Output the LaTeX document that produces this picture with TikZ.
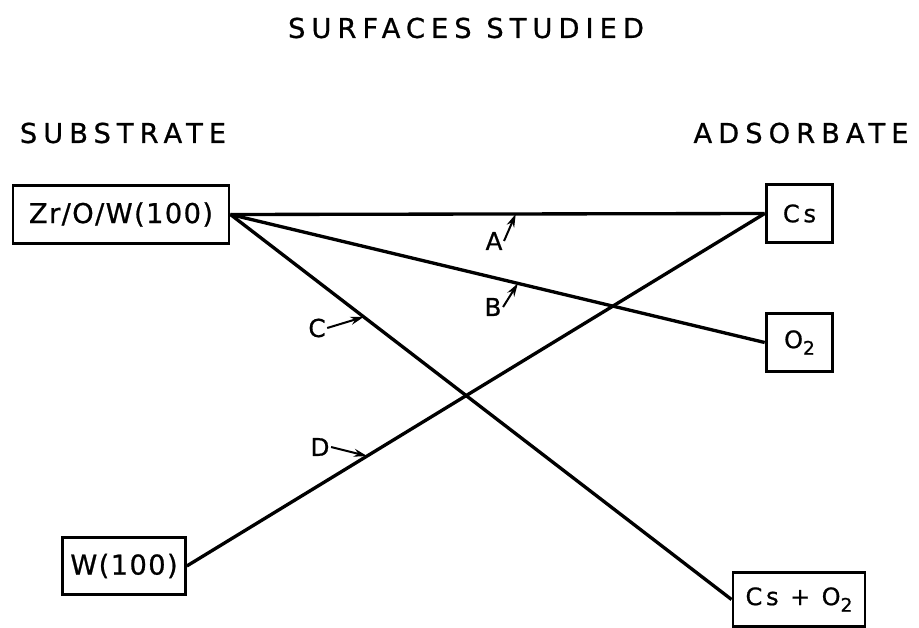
\documentclass[tikz,border=0pt]{standalone}
\usepackage{fontspec}
\newfontfamily\lettering{DejaVu Sans}[LetterSpace=22,FakeBold=0.8]
\newfontfamily\boxlettering{DejaVu Sans}[LetterSpace=5,FakeBold=0.8]
\newfontfamily\smalllettering{DejaVu Sans}[LetterSpace=16,FakeBold=0.8]
\usetikzlibrary{arrows.meta}

\newcommand{\subtwo}{\raisebox{-0.5ex}{\fontsize{14}{14}\selectfont 2}}

\tikzset{
  bigtext/.style={font=\lettering\fontsize{20.5}{22}\selectfont},
  boxtext/.style={font=\boxlettering\fontsize{20.5}{22}\selectfont},
  smalltext/.style={font=\smalllettering\fontsize{18}{20}\selectfont},
  surface/.style={draw,line width=2.2pt,minimum height=43pt,inner sep=0pt},
  link/.style={line width=2.5pt},
  tag/.style={font=\boxlettering\fontsize{18.5}{20}\selectfont,inner sep=1pt},
  pointer/.style={line width=1.5pt,-{Stealth[length=10pt,width=6pt]}}
}

\begin{document}
\begin{tikzpicture}[x=0.75pt,y=-0.75pt]
  \useasboundingbox (0,0) rectangle (919,627);

  % headings
  \node[bigtext] (title) at (466,28) {SURFACES STUDIED};
  \node[bigtext] (sub) at (123,133) {SUBSTRATE};
  \node[bigtext] (ads) at (801,133) {ADSORBATE};

  % substrates
  \node[surface,boxtext,minimum width=162pt] (zr) at (121,214.5) {Zr/O/W(100)};
  \node[surface,boxtext,minimum width=92pt] (w) at (124,566) {W(100)};

  % adsorbates
  \node[surface,smalltext,minimum width=50pt] (cs) at (799.5,213.5) {Cs};
  \node[surface,smalltext,minimum width=50pt] (ox) at (799.5,342.5) {O\subtwo};
  \node[surface,smalltext,minimum width=99pt,minimum height=41pt] (csox) at (799,599.5) {Cs + O\subtwo};

  % connections
  \draw[link] (zr.east) -- (cs.west) coordinate[pos=0.534] (pa);
  \draw[link] (zr.east) -- (ox.west) coordinate[pos=0.538] (pb);
  \draw[link] (zr.east) -- (csox.west) coordinate[pos=0.266] (pc);
  \draw[link] (w.east) -- (cs.west) coordinate[pos=0.312] (pd);

  % labels
  \node[tag] (A) at (494,241) {A};
  \node[tag] (B) at (493,307) {B};
  \node[tag] (C) at (317,328) {C};
  \node[tag] (D) at (320,447) {D};
  \draw[pointer] (A.east) -- (pa);
  \draw[pointer] (B.east) -- (pb);
  \draw[pointer] (C.east) -- (pc);
  \draw[pointer] (D.east) -- (pd);
\end{tikzpicture}
\end{document}
